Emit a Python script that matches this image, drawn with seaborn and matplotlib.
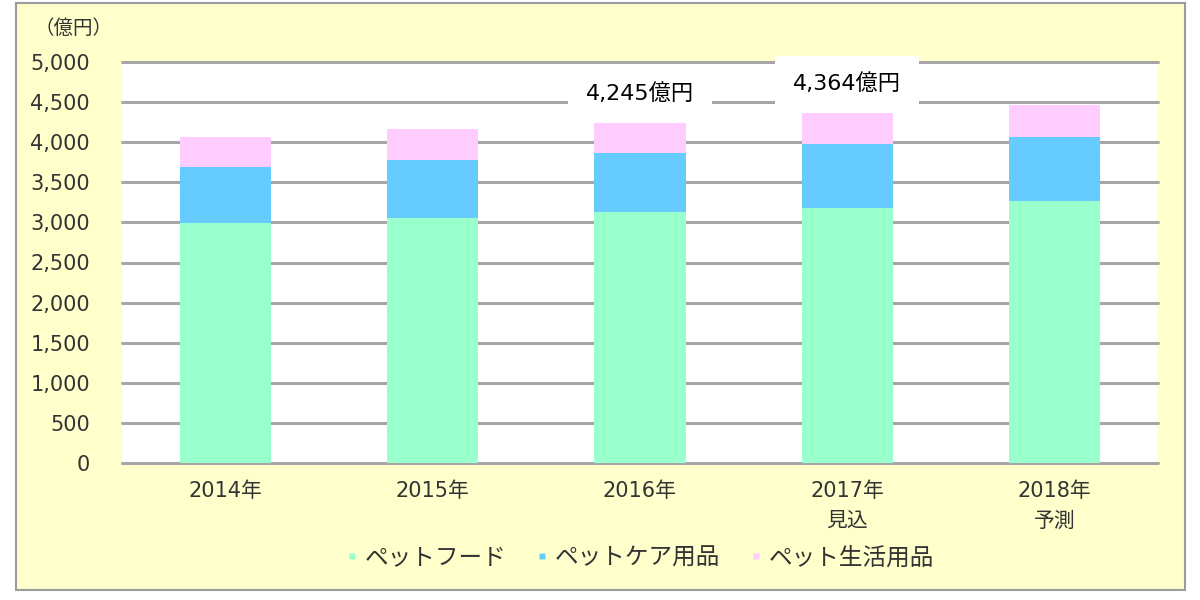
import matplotlib
matplotlib.use("Agg")
import matplotlib.pyplot as plt
from matplotlib.patches import Rectangle
from matplotlib.lines import Line2D
import seaborn as sns
import pandas as pd

# Pet market size by segment (億円)
years = ["2014年", "2015年", "2016年", "2017年\n見込", "2018年\n予測"]
pet_food = [2990, 3050, 3130, 3180, 3270]
pet_care = [695, 725, 735, 800, 795]
pet_living = [375, 385, 380, 384, 400]
labeled_years = ["2016年", "2017年\n見込"]

series_names = ["ペットフード", "ペットケア用品", "ペット生活用品"]
colors = ["#99FFCC", "#66CCFF", "#FFCCFF"]

sns.set_theme(style="white")
plt.rcParams["font.family"] = ["DejaVu Sans", "Noto Sans CJK JP"]

df = pd.DataFrame({
    "year": years,
    "food": pet_food,
    "care": pet_care,
    "living": pet_living,
})
df["food_care"] = df["food"] + df["care"]
df["total"] = df["food_care"] + df["living"]

fig = plt.figure(figsize=(12, 6), dpi=100)
fig.patch.set_facecolor("white")
frame = Rectangle((16 / 1200, 10 / 600), 1169 / 1200, 587 / 600,
                  transform=fig.transFigure, facecolor="#FFFFCC",
                  edgecolor="#9C9C9C", linewidth=1.5, zorder=-10)
fig.patches.append(frame)

ax = fig.add_axes([122 / 1200, 137 / 600, 1036 / 1200, 401 / 600])
ax.set_zorder(1)
ax.set_facecolor("white")

# stacked bars: draw cumulative totals from the top segment down
bar_kw = dict(width=0.44, saturation=1, ax=ax, zorder=3,
              edgecolor="none", linewidth=0)
sns.barplot(data=df, x="year", y="total", color=colors[2], **bar_kw)
sns.barplot(data=df, x="year", y="food_care", color=colors[1], **bar_kw)
sns.barplot(data=df, x="year", y="food", color=colors[0], **bar_kw)

ax.set_ylim(0, 5000)
ax.set_yticks(range(0, 5001, 500))
ax.set_yticklabels([f"{v:,}" for v in range(0, 5001, 500)])
for v in range(0, 5001, 500):
    ax.axhline(v, color="#A6A6A6", linewidth=2.2, zorder=1, clip_on=False)

for s in ax.spines.values():
    s.set_visible(False)
ax.tick_params(axis="y", length=0, pad=23, labelsize=15, labelcolor="#333333")
ax.tick_params(axis="x", length=0, pad=13, labelsize=15, labelcolor="#333333")
for t in ax.get_xticklabels():
    t.set_linespacing(1.6)
ax.set_xlabel("")
ax.set_ylabel("")

# totals for the highlighted years
for i, row in df.iterrows():
    if row["year"] in labeled_years:
        ax.annotate(f"{row['total']:,}億円", xy=(i, row["total"]),
                    xytext=(0, 21), textcoords="offset points",
                    ha="center", va="center", fontsize=16, color="black",
                    annotation_clip=False, zorder=5,
                    bbox=dict(boxstyle="square,pad=0.8", facecolor="white",
                              edgecolor="none"))

fig.text(35 / 1200, 1 - 28 / 600, "（億円）", fontsize=14, color="#333333",
         ha="left", va="center", family=["Noto Sans CJK JP", "DejaVu Sans"])

handles = [Line2D([], [], marker="s", linestyle="none", markersize=5,
                  markerfacecolor=c, markeredgecolor="none") for c in colors]
fig.legend(handles, series_names, loc="center", bbox_to_anchor=(0.533, 0.07),
           ncol=3, frameon=False, handlelength=0.6, handletextpad=0.25,
           columnspacing=1.2, prop={"family": ["Noto Sans CJK JP"], "size": 17},
           labelcolor="#333333")

fig.savefig("out.png", dpi=100, facecolor=fig.get_facecolor())
